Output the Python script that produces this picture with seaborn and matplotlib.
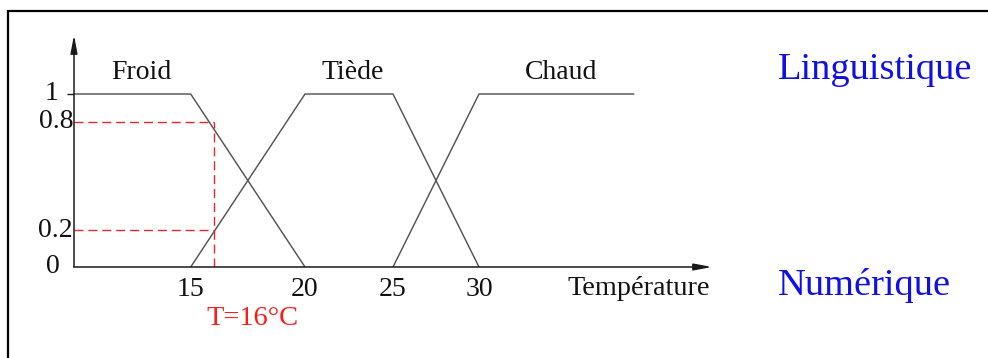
import numpy as np
import pandas as pd
import seaborn as sns
import matplotlib.pyplot as plt
from matplotlib.patches import Rectangle

# membership functions (temperature, degree)
froid_t = [10, 15, 20]
froid_mu = [1, 1, 0]
tiede_t = [15, 20, 25, 30]
tiede_mu = [0, 1, 1, 0]
chaud_t = [25, 30, 39]
chaud_mu = [0, 1, 1]
set_names = ['Froid', 'Tiède', 'Chaud']

# reading at T = 16 degrees
t_reading = 16
mu_reading = [0.8, 0.2]

x_ticks = [15, 20, 25, 30]
y_labels = ['1', '0.8', '0.2', '0']
y_values = [1, 0.8, 0.2, 0]

# the drawing is hand made: neither axis is quite linear in pixels
knot_t = np.array([10, 15, 20, 25, 30, 45])
knot_px = np.array([74, 190.7, 305, 393, 479, 737])
knot_mu = np.array([0, 0.2, 0.8, 1, 1.34, 2])
knot_py = np.array([0, 37, 145, 173, 232, 345])


def fwd_x(t):
    return np.interp(t, knot_t, knot_px)


def inv_x(px):
    return np.interp(px, knot_px, knot_t)


def fwd_y(m):
    return np.interp(m, knot_mu, knot_py)


def inv_y(py):
    return np.interp(py, knot_py, knot_mu)


df = pd.concat([
    pd.DataFrame({'temp': froid_t, 'mu': froid_mu, 'set': 'Froid'}),
    pd.DataFrame({'temp': tiede_t, 'mu': tiede_mu, 'set': 'Tiède'}),
    pd.DataFrame({'temp': chaud_t, 'mu': chaud_mu, 'set': 'Chaud'}),
])

sns.set_style('white')
plt.rcParams['font.family'] = ['Liberation Serif', 'DejaVu Serif']

W, H = 988, 358
fig = plt.figure(figsize=(W / 100, H / 100), dpi=100)
# axes covers px 74..712 horizontally, 35..267 vertically
ax = fig.add_axes([74 / W, (H - 267) / H, (712 - 74) / W, (267 - 35) / H])

gray = '#555555'
sns.lineplot(data=df, x='temp', y='mu', hue='set', units='set', estimator=None,
             sort=False, palette={n: gray for n in set_names}, legend=False,
             lw=1.05, ax=ax)

red = '#e8262e'
ax.hlines(mu_reading, 10, t_reading, colors=red, lw=1.0, linestyles=(0, (6.5, 3.5)))
ax.vlines(t_reading, 0, max(mu_reading), colors=red, lw=1.0, linestyles=(0, (6.5, 3.5)))

ax.set_xscale('function', functions=(fwd_x, inv_x))
ax.set_yscale('function', functions=(fwd_y, inv_y))
ax.set_xlim(10, inv_x(712))
ax.set_ylim(0, 1.34)
ax.set_xlabel('')
ax.set_ylabel('')

for s in ax.spines.values():
    s.set_visible(False)

# axes with arrow heads
arrow = dict(arrowstyle='-|>,head_length=0.9,head_width=0.17', color='#1a1a1a',
             lw=1.1, mutation_scale=12, shrinkA=0, shrinkB=0)
ax.annotate('', xy=(1, 0), xytext=(0, 0), xycoords='axes fraction', arrowprops=arrow)
ax.annotate('', xy=(0, 1), xytext=(0, 0), xycoords='axes fraction', arrowprops=arrow)

ax.set_xticks(x_ticks)
ax.set_xticklabels([str(t) for t in x_ticks])
ax.xaxis.set_minor_locator(plt.NullLocator())
ax.yaxis.set_minor_locator(plt.NullLocator())
ax.tick_params(axis='x', length=0, pad=7, labelsize=20, labelcolor='#111111')
ax.set_yticks([1])
ax.set_yticklabels([''])
ax.tick_params(axis='y', length=5, width=1.0, color='#1a1a1a', direction='out', left=True)

ytr = ax.get_yaxis_transform()
y_offsets = [(-11.5, -4.5), (-0.7, -4.5), (-0.7, -5), (-10, -4.5)]
for lab, val, off in zip(y_labels, y_values, y_offsets):
    ax.annotate(lab, xy=(0, val), xycoords=ytr, xytext=off, textcoords='offset points',
                ha='right', va='baseline', fontsize=20, color='#111111')

# set names above the plateaus
name_pos = [12.9, 22.7, 34.8]
for n, xp in zip(set_names, name_pos):
    ax.text(xp, 1.086, n, ha='center', va='baseline', fontsize=20, color='#111111')

ax.annotate('T=16°C', xy=(t_reading, 0), xytext=(-5, -41.8), textcoords='offset points',
            ha='left', va='baseline', fontsize=20.5, color='#ff1a1a')

fig.text(567 / W, (H - 295) / H, 'Température', ha='left', va='baseline',
         fontsize=20.3, color='#111111')
fig.text(778 / W, (H - 79) / H, 'Linguistique', ha='left', va='baseline',
         fontsize=27.7, color='#1010e6')
fig.text(778 / W, (H - 295) / H, 'Numérique', ha='left', va='baseline',
         fontsize=27.7, color='#1010e6')

# frame of the original figure (only top and left edges are in view)
fig.add_artist(Rectangle((8 / W, -0.5), 2, (H - 11) / H + 0.5, transform=fig.transFigure,
                         fill=False, lw=1.6, ec='black'))

fig.savefig('out.png', dpi=100, facecolor='white')
